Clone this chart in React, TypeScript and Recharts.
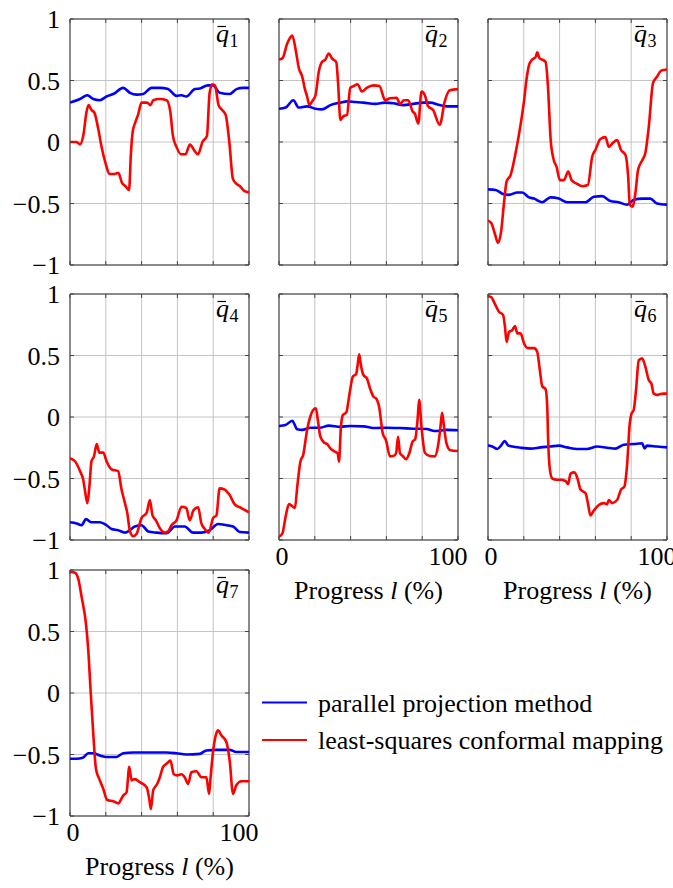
import React from 'react';
import { LineChart, Line, XAxis, YAxis, CartesianGrid, ReferenceArea } from 'recharts';

// ---------- tick definitions ----------
const xTicks = [0, 20, 40, 60, 80, 100];
const xTickLabels = ['0', '', '', '', '', '100'];
const yTicks = [-1, -0.5, 0, 0.5, 1];
const yTickLabels = ['\u22121', '\u22120.5', '0', '0.5', '1'];
const xAxisTitle = ['Progress ', 'l', ' (%)'];

// ---------- series ----------
const seriesNames = ['parallel projection method', 'least-squares conformal mapping'];
const seriesColors = ['#0000ff', '#ff0000'];

// q1
const q1ParX = [0, 5.6, 9.7, 13, 16.7, 20.4, 24.2, 29.7, 33.5, 37.2, 40.9, 45.5, 50.2, 54.8, 59.5, 62.3, 65, 69.7, 72.5, 77, 80, 83.6, 89.2, 93, 96.7, 100];
const q1ParY = [0.32, 0.35, 0.38, 0.35, 0.34, 0.37, 0.39, 0.44, 0.40, 0.385, 0.39, 0.44, 0.44, 0.43, 0.375, 0.38, 0.37, 0.43, 0.435, 0.46, 0.46, 0.40, 0.39, 0.43, 0.44, 0.44];
const q1LscX = [0, 3.7, 5.6, 7.4, 9.3, 10.4, 12, 13.6, 15.6, 17.5, 20, 22, 25, 27, 29, 31, 33, 34, 35, 36.5, 38, 40, 43, 45, 46.5, 50, 54, 56, 57.5, 59.5, 62, 64.5, 67, 69.5, 71.5, 74, 76.5, 78, 79.5, 81, 83, 85, 87, 89, 91, 93, 95, 97.5, 100];
const q1LscY = [0, 0, -0.02, 0.05, 0.25, 0.30, 0.26, 0.24, 0.12, -0.03, -0.18, -0.26, -0.26, -0.25, -0.33, -0.36, -0.39, -0.1, 0.08, 0.16, 0.22, 0.32, 0.32, 0.30, 0.34, 0.35, 0.34, 0.25, 0.05, -0.04, -0.10, -0.10, -0.02, -0.07, -0.10, 0.0, 0.05, 0.40, 0.47, 0.46, 0.30, 0.26, 0.22, 0.0, -0.30, -0.34, -0.36, -0.40, -0.41];

// q2
const q2ParX = [0, 3.7, 8, 11, 15.7, 20.4, 24, 28.7, 34.3, 38, 42.6, 47.2, 53.7, 59.3, 63.9, 69.4, 75, 80.6, 84.3, 89.8, 93.5, 100];
const q2ParY = [0.27, 0.28, 0.34, 0.28, 0.29, 0.27, 0.265, 0.30, 0.32, 0.33, 0.325, 0.32, 0.31, 0.32, 0.315, 0.30, 0.31, 0.32, 0.32, 0.30, 0.29, 0.29];
const q2LscX = [0, 1.9, 4.6, 7.4, 9.3, 11.1, 13, 14.3, 15.7, 17, 18.5, 20.4, 22.2, 24, 25.9, 27.8, 29.6, 32, 33, 34.3, 36.1, 38, 39.8, 41.7, 43.9, 46.3, 49, 52.8, 56.1, 59.3, 62, 65.7, 67.6, 69.8, 72.2, 74.6, 75.9, 77.8, 79.6, 81.5, 83.3, 86.1, 89.8, 92.6, 95.4, 100];
const q2LscY = [0.67, 0.68, 0.80, 0.865, 0.75, 0.60, 0.53, 0.44, 0.37, 0.30, 0.33, 0.38, 0.57, 0.65, 0.67, 0.72, 0.68, 0.65, 0.48, 0.18, 0.21, 0.22, 0.44, 0.455, 0.47, 0.41, 0.44, 0.46, 0.455, 0.34, 0.355, 0.36, 0.31, 0.34, 0.34, 0.25, 0.23, 0.15, 0.41, 0.38, 0.29, 0.26, 0.14, 0.33, 0.42, 0.43];

// q3
const q3ParX = [0, 4.3, 8, 11.7, 16.4, 19.1, 22.9, 25.7, 30.3, 34.9, 39.6, 44.2, 49.8, 54.5, 59.1, 63.8, 68.4, 73, 77.7, 81.4, 86.1, 90.7, 94.4, 100];
const q3ParY = [-0.385, -0.39, -0.42, -0.43, -0.41, -0.41, -0.45, -0.46, -0.49, -0.45, -0.46, -0.49, -0.49, -0.49, -0.445, -0.44, -0.48, -0.49, -0.51, -0.47, -0.46, -0.46, -0.50, -0.51];
const q3LscX = [0, 1.9, 3.7, 5.6, 7.4, 8.9, 10.4, 12.6, 15.4, 18.2, 20.1, 21.6, 23, 24.7, 26.6, 27.5, 28.8, 30.3, 32.2, 33.5, 35, 36.8, 38.3, 40.1, 42.4, 44.8, 46.7, 49.8, 52.6, 55.8, 58.2, 60, 62.8, 65.6, 67.5, 69.9, 72.1, 74.3, 76.8, 78.3, 79.2, 80.7, 82.3, 83.8, 86.1, 87.9, 89.8, 92.2, 94.4, 96.7, 100];
const q3LscY = [-0.64, -0.66, -0.74, -0.82, -0.72, -0.50, -0.32, -0.27, -0.09, 0.14, 0.33, 0.52, 0.63, 0.67, 0.69, 0.73, 0.68, 0.67, 0.65, 0.45, 0.02, -0.15, -0.20, -0.31, -0.31, -0.24, -0.31, -0.34, -0.36, -0.35, -0.12, -0.065, 0.025, 0.04, -0.04, -0.005, 0.015, -0.065, -0.105, -0.28, -0.51, -0.525, -0.42, -0.23, -0.15, -0.09, 0.12, 0.48, 0.53, 0.58, 0.59];

// q4
const q4ParX = [0, 3.7, 6.5, 8.9, 12, 16.7, 20.4, 23.2, 26.9, 30.7, 33.5, 36.2, 40, 43.7, 48.3, 53.9, 58.6, 64.1, 68.8, 73.4, 78.1, 82.7, 87.4, 91.1, 94.8, 100];
const q4ParY = [-0.856, -0.865, -0.88, -0.83, -0.856, -0.856, -0.88, -0.91, -0.92, -0.94, -0.92, -0.89, -0.88, -0.93, -0.94, -0.945, -0.89, -0.89, -0.94, -0.94, -0.92, -0.87, -0.88, -0.89, -0.935, -0.94];
const q4LscX = [0, 2.8, 5.6, 7.4, 8.6, 9.7, 10.8, 12, 13.4, 14.9, 16.4, 18.6, 20.4, 23.2, 26.9, 28.8, 30.7, 32, 33.5, 35.3, 37.2, 40, 42.8, 44.6, 46.1, 48, 50.2, 53, 54.8, 56.7, 59.5, 62.3, 65, 66.9, 69.1, 71.6, 73.4, 75.3, 77.5, 80, 81.8, 83.6, 86.4, 89.2, 92, 95.7, 100];
const q4LscY = [-0.336, -0.36, -0.44, -0.51, -0.62, -0.70, -0.57, -0.36, -0.32, -0.22, -0.29, -0.29, -0.36, -0.425, -0.44, -0.59, -0.70, -0.78, -0.93, -0.97, -0.95, -0.82, -0.78, -0.675, -0.80, -0.84, -0.905, -0.94, -0.93, -0.88, -0.84, -0.73, -0.74, -0.84, -0.755, -0.735, -0.865, -0.91, -0.94, -0.82, -0.80, -0.58, -0.59, -0.635, -0.71, -0.74, -0.775];

// q5
const q5ParX = [0, 3.7, 7.4, 10.2, 13, 17.6, 23.1, 27.8, 34.3, 39.8, 47.2, 53.7, 60.2, 67.6, 75, 82.4, 87, 93.5, 100];
const q5ParY = [-0.073, -0.065, -0.03, -0.10, -0.105, -0.087, -0.087, -0.07, -0.08, -0.073, -0.076, -0.09, -0.087, -0.09, -0.095, -0.098, -0.114, -0.105, -0.108];
const q5LscX = [0, 1.9, 3.7, 5.6, 7, 8.9, 10.2, 12, 13.5, 15.7, 17.6, 19.4, 20.6, 21.7, 23.1, 25.4, 26.9, 28.7, 30.9, 32.8, 33.5, 34.6, 35.7, 37.6, 39.4, 41.3, 43.1, 43.9, 44.8, 45.9, 47.2, 49.1, 50.9, 52.8, 54.3, 56.1, 57.9, 59.8, 62, 63.9, 65.4, 66.5, 67.6, 69.1, 70.9, 72.8, 74.6, 76.1, 77.4, 78.3, 79.6, 81.5, 84.3, 87, 88.9, 90.2, 91.1, 92.2, 93.5, 95.7, 100];
const q5LscY = [-0.973, -0.946, -0.81, -0.707, -0.72, -0.74, -0.566, -0.36, -0.31, -0.105, 0.008, 0.062, 0.07, -0.024, -0.16, -0.21, -0.22, -0.255, -0.28, -0.295, -0.363, -0.08, 0.016, 0.038, 0.19, 0.33, 0.35, 0.42, 0.51, 0.41, 0.34, 0.314, 0.23, 0.165, 0.15, 0.07, -0.13, -0.19, -0.32, -0.317, -0.295, -0.16, -0.295, -0.317, -0.344, -0.295, -0.2, -0.18, -0.024, 0.14, -0.08, -0.29, -0.317, -0.32, -0.23, -0.08, 0.035, -0.08, -0.21, -0.27, -0.276];

// q6
const q6ParX = [0, 2.4, 5.2, 7.4, 9.3, 11.2, 13.6, 18.2, 23.8, 29.4, 34.9, 39.6, 44.2, 49.8, 55.4, 61, 66.5, 71.2, 75.8, 81.4, 86.1, 87.5, 88.8, 94.4, 100];
const q6ParY = [-0.23, -0.24, -0.26, -0.23, -0.195, -0.23, -0.24, -0.25, -0.257, -0.247, -0.24, -0.233, -0.247, -0.26, -0.26, -0.24, -0.25, -0.257, -0.225, -0.22, -0.214, -0.255, -0.233, -0.24, -0.247];
const q6LscX = [0, 1.9, 3.7, 6.1, 8.4, 9.5, 10.4, 11.7, 13.6, 15.1, 16.4, 18.2, 20.1, 22.3, 25.7, 27.5, 28.8, 30.3, 32.2, 33.1, 33.6, 34.6, 35.9, 38.3, 40.5, 43.3, 44.8, 46.1, 48.3, 50.2, 51.7, 54.5, 55.8, 57.2, 59.1, 61.9, 64.7, 66.5, 67.5, 69.3, 72.1, 74.3, 76.2, 77.7, 79.2, 80.1, 81.4, 82.7, 84.2, 86.1, 87.9, 89.8, 91.3, 92.6, 94.4, 96.3, 98.1, 100];
const q6LscY = [0.984, 0.973, 0.924, 0.856, 0.83, 0.73, 0.61, 0.69, 0.707, 0.74, 0.68, 0.68, 0.60, 0.56, 0.56, 0.53, 0.40, 0.25, 0.225, 0.084, -0.187, -0.43, -0.50, -0.51, -0.51, -0.52, -0.545, -0.46, -0.45, -0.51, -0.59, -0.62, -0.70, -0.80, -0.76, -0.715, -0.70, -0.71, -0.675, -0.70, -0.675, -0.59, -0.566, -0.39, -0.05, 0.024, 0.057, 0.22, 0.46, 0.477, 0.41, 0.30, 0.27, 0.19, 0.18, 0.187, 0.19, 0.19];

// q7
const q7ParX = [0, 3.7, 7.1, 10.2, 13, 16.7, 20.4, 26, 29.7, 35.3, 44.6, 53.9, 59.5, 65, 72.5, 76.2, 81.8, 89.2, 92.9, 100];
const q7ParY = [-0.535, -0.535, -0.527, -0.49, -0.49, -0.508, -0.52, -0.52, -0.49, -0.484, -0.484, -0.484, -0.49, -0.5, -0.495, -0.467, -0.462, -0.462, -0.48, -0.48];
const q7LscX = [0, 2.8, 4.6, 6.5, 8.9, 10.2, 11.5, 13, 14.5, 16.4, 18.6, 20.8, 24.2, 26.9, 29.7, 31.6, 33.1, 34.4, 36.2, 39, 42.8, 44.2, 45.2, 46.5, 48.7, 50.2, 52, 53.9, 56.1, 58, 59.9, 62.3, 64.1, 66, 67.8, 70.6, 73.4, 76.2, 77.7, 78.4, 80, 81.8, 82.7, 84.6, 87.4, 89.2, 91.1, 92.9, 95.7, 100];
const q7LscY = [0.986, 0.978, 0.93, 0.78, 0.565, 0.35, 0.02, -0.33, -0.617, -0.70, -0.78, -0.87, -0.88, -0.897, -0.834, -0.807, -0.60, -0.71, -0.70, -0.725, -0.766, -0.853, -0.943, -0.79, -0.74, -0.685, -0.60, -0.576, -0.55, -0.66, -0.67, -0.66, -0.685, -0.74, -0.644, -0.636, -0.685, -0.685, -0.82, -0.71, -0.467, -0.326, -0.304, -0.345, -0.40, -0.55, -0.82, -0.75, -0.717, -0.717];

// ---------- layout constants ----------
const FONT = "'Liberation Serif', Tinos, 'Times New Roman', Times, 'DejaVu Serif', serif";
const PLOT_W = 179;
const PLOT_H = 246;
const TICK_LEN = 4;
const Y_AXIS_W = 70;
const X_AXIS_H = 70;
const M_TOP = 20;
const M_RIGHT = 40;
const FS = 26;
const X_LABEL_SHIFT = [3, 0, 0, 0, 0, -10];

const pts = (xs: number[], ys: number[]) => xs.map((x, i) => ({ x, y: ys[i] }));

const panels = [
  { sub: '1', par: pts(q1ParX, q1ParY), lsc: pts(q1LscX, q1LscY), left: 70, top: 19, yLab: true, xLab: false },
  { sub: '2', par: pts(q2ParX, q2ParY), lsc: pts(q2LscX, q2LscY), left: 279, top: 19, yLab: false, xLab: false },
  { sub: '3', par: pts(q3ParX, q3ParY), lsc: pts(q3LscX, q3LscY), left: 488, top: 19, yLab: false, xLab: false },
  { sub: '4', par: pts(q4ParX, q4ParY), lsc: pts(q4LscX, q4LscY), left: 70, top: 294, yLab: true, xLab: false },
  { sub: '5', par: pts(q5ParX, q5ParY), lsc: pts(q5LscX, q5LscY), left: 279, top: 294, yLab: false, xLab: true },
  { sub: '6', par: pts(q6ParX, q6ParY), lsc: pts(q6LscX, q6LscY), left: 488, top: 294, yLab: false, xLab: true },
  { sub: '7', par: pts(q7ParX, q7ParY), lsc: pts(q7LscX, q7LscY), left: 70, top: 570, yLab: true, xLab: true },
];

const textStyle = { fontFamily: FONT };

function XTick(props: any) {
  const { x, y, payload, showLabel } = props;
  const i = xTicks.indexOf(payload.value);
  const label = xTickLabels[i];
  return (
    <g>
      <line x1={x} x2={x} y1={y} y2={y - TICK_LEN} stroke="#444" strokeWidth={1} />
      <line x1={x} x2={x} y1={y - PLOT_H} y2={y - PLOT_H + TICK_LEN} stroke="#444" strokeWidth={1} />
      {showLabel && label ? (
        <text x={x + X_LABEL_SHIFT[i]} y={y + 25} textAnchor="middle" style={textStyle} fontSize={FS} fill="#000">
          {label}
        </text>
      ) : null}
    </g>
  );
}

function YTick(props: any) {
  const { x, y, payload, showLabel } = props;
  const i = yTicks.indexOf(payload.value);
  const label = yTickLabels[i];
  return (
    <g>
      <line x1={x} x2={x + TICK_LEN} y1={y} y2={y} stroke="#444" strokeWidth={1} />
      <line x1={x + PLOT_W - TICK_LEN} x2={x + PLOT_W} y1={y} y2={y} stroke="#444" strokeWidth={1} />
      {showLabel ? (
        <text x={x - 10} y={y + 9} textAnchor="end" style={textStyle} fontSize={FS} fill="#000">
          {label}
        </text>
      ) : null}
    </g>
  );
}

function Panel({ p }: { p: any }) {
  const W = Y_AXIS_W + PLOT_W + M_RIGHT;
  const H = M_TOP + PLOT_H + X_AXIS_H;
  return (
    <div style={{ position: 'absolute', left: p.left - Y_AXIS_W, top: p.top - M_TOP }}>
      <LineChart width={W} height={H} margin={{ top: M_TOP, right: M_RIGHT, bottom: 0, left: 0 }}>
        <CartesianGrid stroke="#c4c4c4" strokeWidth={1} />
        <XAxis
          dataKey="x"
          type="number"
          domain={[0, 100]}
          ticks={xTicks}
          interval={0}
          height={X_AXIS_H}
          tickSize={0}
          tickMargin={0}
          tickLine={false}
          axisLine={false}
          allowDataOverflow
          tick={(tp: any) => <XTick {...tp} showLabel={p.xLab} />}
        />
        <YAxis
          type="number"
          domain={[-1, 1]}
          ticks={yTicks}
          interval={0}
          width={Y_AXIS_W}
          tickSize={0}
          tickMargin={0}
          tickLine={false}
          axisLine={false}
          allowDataOverflow
          tick={(tp: any) => <YTick {...tp} showLabel={p.yLab} />}
        />
        <Line
          data={p.par}
          dataKey="y"
          type="monotone"
          stroke={seriesColors[0]}
          strokeWidth={2.6}
          dot={false}
          activeDot={false}
          isAnimationActive={false}
        />
        <Line
          data={p.lsc}
          dataKey="y"
          type="monotone"
          stroke={seriesColors[1]}
          strokeWidth={2.6}
          dot={false}
          activeDot={false}
          isAnimationActive={false}
        />
        <ReferenceArea x1={0} x2={100} y1={-1} y2={1} fill="none" stroke="#333" strokeWidth={1} ifOverflow="visible" />
      </LineChart>
    </div>
  );
}

export default function App() {
  return (
    <div
      style={{
        position: 'absolute',
        left: 0,
        top: 0,
        width: 673,
        height: 888,
        overflow: 'hidden',
        background: '#fff',
        fontFamily: FONT,
      }}
    >
      {panels.map((p) => (
        <Panel key={p.sub} p={p} />
      ))}
      <svg width={673} height={888} style={{ position: 'absolute', left: 0, top: 0, pointerEvents: 'none' }}>
        {panels.map((p) => {
          const qx = p.left + PLOT_W - 33;
          const by = p.top + 23;
          return (
            <g key={'t' + p.sub}>
              <line x1={qx + 1.5} x2={qx + 10} y1={p.top + 7.5} y2={p.top + 7.5} stroke="#000" strokeWidth={1.2} />
              <text x={qx} y={by} style={textStyle} fontSize={FS} fontStyle="italic" fill="#000">
                q
              </text>
              <text x={qx + 13.5} y={by + 5} style={textStyle} fontSize={18} fill="#000">
                {p.sub}
              </text>
            </g>
          );
        })}
        {panels
          .filter((p) => p.xLab)
          .map((p) => (
            <text
              key={'xl' + p.sub}
              x={p.left + PLOT_W / 2}
              y={p.top + PLOT_H + 59}
              textAnchor="middle"
              style={{ ...textStyle, whiteSpace: 'pre' }}
              fontSize={FS}
              fill="#000"
            >
              {xAxisTitle[0]}
              <tspan fontStyle="italic">{xAxisTitle[1]}</tspan>
              {xAxisTitle[2]}
            </text>
          ))}
        {seriesNames.map((name, i) => {
          const ly = 702.5 + i * 37.5;
          return (
            <g key={name}>
              <line x1={262} x2={307} y1={ly} y2={ly} stroke={seriesColors[i]} strokeWidth={2.2} />
              <text x={318} y={ly + 9} style={textStyle} fontSize={FS} fill="#000">
                {name}
              </text>
            </g>
          );
        })}
      </svg>
    </div>
  );
}
